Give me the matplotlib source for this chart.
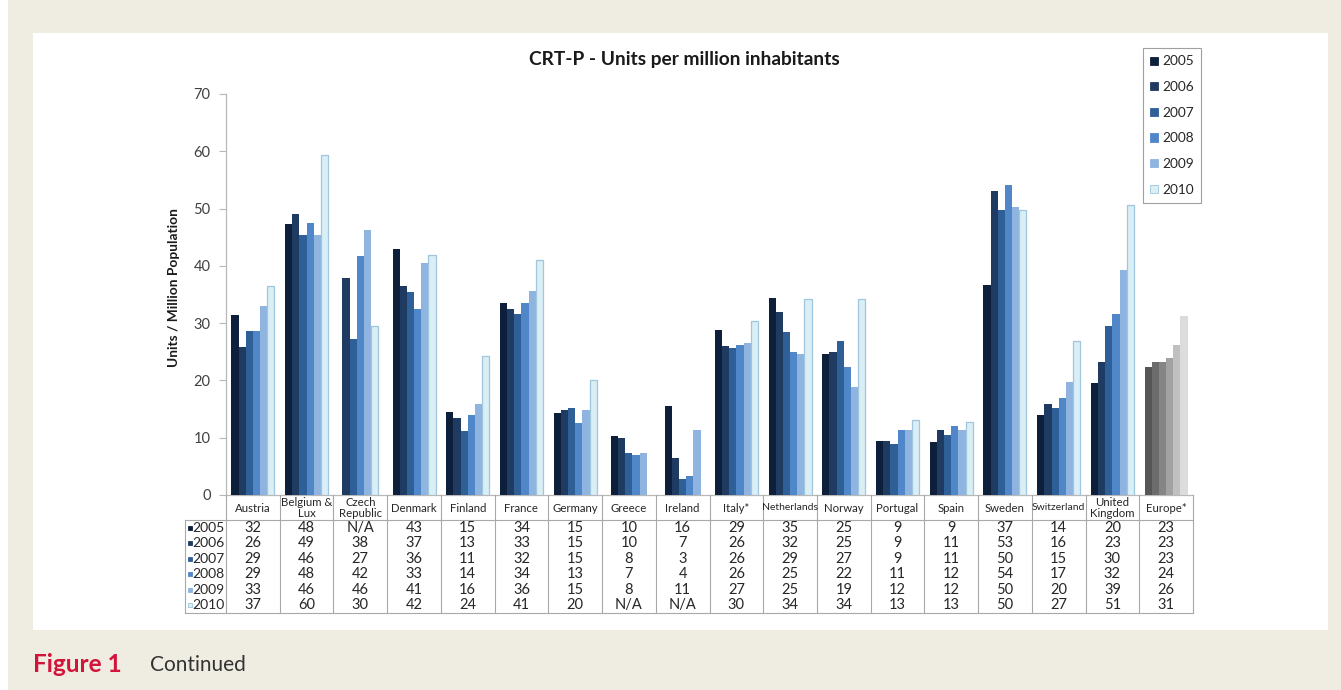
import numpy as np
import matplotlib
matplotlib.use("Agg")
import matplotlib.pyplot as plt
from matplotlib.patches import Rectangle

W, H = 1341, 690

categories = ["Austria", "Belgium &\nLux", "Czech\nRepublic", "Denmark", "Finland",
              "France", "Germany", "Greece", "Ireland", "Italy*", "Netherlands",
              "Norway", "Portugal", "Spain", "Sweden", "Switzerland",
              "United\nKingdom", "Europe*"]
years = ["2005", "2006", "2007", "2008", "2009", "2010"]

nan = np.nan
# bar heights as drawn
v2005 = [31.5, 47.3, nan, 43.0, 14.5, 33.6, 14.4, 10.3, 15.6, 28.8, 34.4, 24.7, 9.4, 9.3, 36.6, 13.9, 19.5, 22.4]
v2006 = [25.8, 49.1, 37.9, 36.4, 13.4, 32.5, 14.9, 10.0, 6.5, 26.0, 32.0, 25.0, 9.4, 11.4, 53.1, 15.8, 23.2, 23.2]
v2007 = [28.6, 45.4, 27.3, 35.4, 11.2, 31.6, 15.2, 7.4, 2.8, 25.6, 28.5, 26.8, 8.9, 10.5, 49.7, 15.2, 29.5, 23.2]
v2008 = [28.6, 47.4, 41.8, 32.5, 14.0, 33.5, 12.5, 6.9, 3.4, 26.2, 25.0, 22.3, 11.3, 12.1, 54.1, 17.0, 31.6, 23.9]
v2009 = [33.0, 45.4, 46.2, 40.5, 15.9, 35.6, 14.8, 7.4, 11.3, 26.5, 24.6, 18.9, 11.4, 11.4, 50.2, 19.7, 39.3, 26.2]
v2010 = [36.4, 59.3, 29.5, 41.9, 24.3, 41.1, 20.0, nan, nan, 30.4, 34.2, 34.3, 13.1, 12.8, 49.8, 26.9, 50.6, 31.2]

# values printed in the data table
t2005 = ["32", "48", "N/A", "43", "15", "34", "15", "10", "16", "29", "35", "25", "9", "9", "37", "14", "20", "23"]
t2006 = ["26", "49", "38", "37", "13", "33", "15", "10", "7", "26", "32", "25", "9", "11", "53", "16", "23", "23"]
t2007 = ["29", "46", "27", "36", "11", "32", "15", "8", "3", "26", "29", "27", "9", "11", "50", "15", "30", "23"]
t2008 = ["29", "48", "42", "33", "14", "34", "13", "7", "4", "26", "25", "22", "11", "12", "54", "17", "32", "24"]
t2009 = ["33", "46", "46", "41", "16", "36", "15", "8", "11", "27", "25", "19", "12", "12", "50", "20", "39", "26"]
t2010 = ["37", "60", "30", "42", "24", "41", "20", "N/A", "N/A", "30", "34", "34", "13", "13", "50", "27", "51", "31"]

values = [v2005, v2006, v2007, v2008, v2009, v2010]
table_text = [t2005, t2006, t2007, t2008, t2009, t2010]

blue_colors = ["#0e1f3b", "#1f3b62", "#2f5f97", "#4f87c8", "#8fb4e0", "#daeef6"]
gray_colors = ["#565656", "#6c6c6c", "#858585", "#a2a2a2", "#c0c0c0", "#dcdcdc"]
edge_2010 = "#9fc6dc"

FONT = ["Lato", "DejaVu Sans"]
plt.rcParams["font.family"] = FONT

fig = plt.figure(figsize=(W / 100, H / 100), dpi=100)
fig.patch.set_facecolor("#efece2")
# white left strip and white panel
fig.add_artist(Rectangle((0, 0), 8 / W, 1, transform=fig.transFigure,
                         facecolor="white", edgecolor="none", zorder=-10))
fig.add_artist(Rectangle((33 / W, 1 - 630 / H), (1328 - 33) / W, (630 - 33) / H,
                         transform=fig.transFigure, facecolor="white",
                         edgecolor="none", zorder=-10))

x0, x1 = 226, 1193
y0, y70 = 495, 94
ax = fig.add_axes([x0 / W, 1 - y0 / H, (x1 - x0) / W, (y0 - y70) / H])
ax.set_facecolor("none")
n = len(categories)
ax.set_xlim(-0.5, n - 0.5)
ax.set_ylim(0, 70)
ax.set_yticks(range(0, 71, 10))
ax.set_xticks([])
for s in ["top", "right"]:
    ax.spines[s].set_visible(False)
for s in ["left", "bottom"]:
    ax.spines[s].set_color("#b8b8b8")
    ax.spines[s].set_linewidth(0.9)
ax.tick_params(axis="y", length=5, color="#b8b8b8", labelsize=10.5,
               labelcolor="#404040", pad=6)

bw = 0.8 / 6
for i in range(n):
    avail = [k for k in range(6) if not np.isnan(values[k][i])]
    m = len(avail)
    for pos, k in enumerate(avail):
        x = i + (pos - (m - 1) / 2) * bw
        col = gray_colors[k] if categories[i] == "Europe*" else blue_colors[k]
        ec = edge_2010 if (k == 5 and categories[i] != "Europe*") else "none"
        ax.bar(x, values[k][i], width=bw, color=col, edgecolor=ec,
               linewidth=0.9 if ec != "none" else 0, zorder=3)

# data table
tleft = 185
tbottom = 613
units_per_px = 1 / ((x1 - x0) / n)
xl = -0.5 - (x0 - tleft) * units_per_px
tax = fig.add_axes([tleft / W, 1 - tbottom / H, (x1 - tleft) / W, (tbottom - y0) / H])
tax.set_xlim(xl, n - 0.5)
tax.set_ylim(tbottom - y0, 0)
tax.axis("off")
lc = "#a8a8a8"
hdr = 25
rowh = (tbottom - y0 - hdr) / 6
tax.plot([xl, n - 0.5], [hdr, hdr], color=lc, lw=0.8, clip_on=False)
tax.plot([xl, n - 0.5], [tbottom - y0, tbottom - y0], color=lc, lw=0.8, clip_on=False)
tax.plot([xl, xl], [hdr, tbottom - y0], color=lc, lw=0.8, clip_on=False)
for i in range(n + 1):
    tax.plot([i - 0.5, i - 0.5], [0, tbottom - y0], color=lc, lw=0.8, clip_on=False)
for i, c in enumerate(categories):
    fs = 7.5 if c in ("Netherlands", "Switzerland") else 8.2
    tax.text(i, hdr / 2 + 0.5, c, ha="center", va="center", fontsize=fs,
             color="#262626", linespacing=0.92)
for k in range(6):
    yc = hdr + (k + 0.5) * rowh
    tax.plot([xl + 4.5 * units_per_px], [yc], marker="s", ms=3.4,
             color=blue_colors[k], mec=edge_2010 if k == 5 else blue_colors[k],
             mew=0.6, clip_on=False)
    tax.text(xl + 7.5 * units_per_px, yc, years[k], ha="left", va="center",
             fontsize=10, color="#262626")
    for i in range(n):
        tax.text(i, yc, table_text[k][i], ha="center", va="center",
                 fontsize=10.5, color="#262626")

# legend
handles = []
for k in range(6):
    handles.append(Rectangle((0, 0), 1, 1, facecolor=blue_colors[k],
                             edgecolor=edge_2010 if k == 5 else blue_colors[k],
                             linewidth=0.6))
leg = fig.legend(handles, years, loc="upper left",
                 bbox_to_anchor=(1143 / W, 1 - 48 / H), frameon=True,
                 fancybox=False, edgecolor="#a0a0a0", framealpha=1,
                 handlelength=0.55, handleheight=0.55, handletextpad=0.3,
                 labelspacing=1.0, fontsize=9.8, borderpad=0.55,
                 borderaxespad=0)
leg.get_frame().set_linewidth(0.8)
for t in leg.get_texts():
    t.set_color("#262626")

fig.text(684 / W, 1 - 60 / H, "CRT-P - Units per million inhabitants",
         ha="center", va="center", fontsize=13.8, fontweight="bold", color="#1a1a1a")
fig.text(174 / W, 1 - 288 / H, "Units / Million Population", rotation=90,
         ha="center", va="center", fontsize=9.9, fontweight="bold", color="#1a1a1a")

fig.text(33 / W, 1 - 665 / H, "Figure 1", ha="left", va="center", fontsize=17.5,
         fontweight="bold", color="#d2143a")
fig.text(150 / W, 1 - 665 / H, "Continued", ha="left", va="center", fontsize=15,
         color="#333333")

fig.savefig("out.png", dpi=100, facecolor=fig.get_facecolor())
